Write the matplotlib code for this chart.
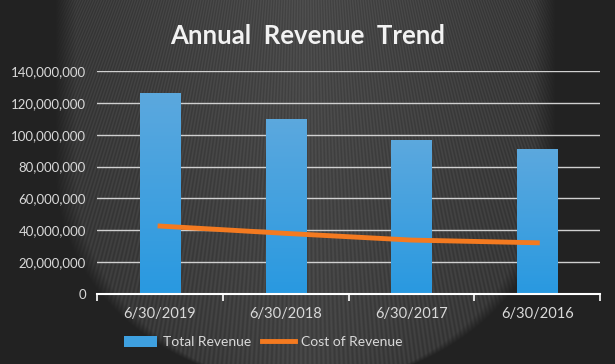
import numpy as np
import matplotlib.pyplot as plt
from matplotlib.lines import Line2D
from matplotlib.patches import Patch

# chart data
dates = ["6/30/2019", "6/30/2018", "6/30/2017", "6/30/2016"]
total_revenue = [126200000, 109900000, 96500000, 90800000]
cost_of_revenue = [42700000, 38100000, 33900000, 32200000]
y_ticks = [0, 20000000, 40000000, 60000000, 80000000, 100000000, 120000000, 140000000]

plt.rcParams['font.family'] = ['Lato', 'DejaVu Sans']
text_col = '#d9d9d9'

fig = plt.figure(figsize=(6.15, 3.64), dpi=100)
fig.patch.set_facecolor('#222222')

# dark background with a lighter, finely striped fan in the middle
bg = fig.add_axes([0, 0, 1, 1], zorder=-10)
px, py = np.meshgrid(np.arange(615), np.arange(364))
dx = (px - 305.0)
dy = np.clip((py - 170.0) / 215.0, 0, 0.999)
half_w = 250 * np.sqrt(1 - dy ** 2)
u = np.abs(dx) / half_w
inside = np.clip((1 - u) * 12, 0, 1)
stripes = 0.5 + 0.5 * np.cos(dx * 2.4 / (1 + 0.002 * py))
shade = 0.135 + inside * (0.06 + 0.07 * (1 - u) * (1 - 0.4 * py / 364) + 0.05 * stripes)
bg.imshow(np.dstack([shade] * 3), aspect='auto', extent=[0, 1, 0, 1], origin='upper')
bg.axis('off')

ax = fig.add_axes([0.158, 0.192, 0.818, 0.613])
ax.patch.set_alpha(0)
x = np.arange(len(dates))

bars = ax.bar(x, total_revenue, width=0.32, color='#3ea0e0', zorder=2)
# vertical gradient inside each bar
grad = np.linspace(0, 1, 100).reshape(-1, 1)
top_c = np.array([0.36, 0.66, 0.87])
bot_c = np.array([0.16, 0.60, 0.88])
img = top_c * (1 - grad[..., None]) + bot_c * grad[..., None]
for b in bars:
    im = ax.imshow(img, aspect='auto', zorder=2.1,
                   extent=[b.get_x(), b.get_x() + b.get_width(), 0, b.get_height()],
                   origin='upper')
    im.set_clip_path(b)

ax.plot(x, cost_of_revenue, color='#f47a20', linewidth=3.5, zorder=3)

ax.set_xlim(-0.5, len(dates) - 0.5)
ax.set_ylim(0, 140000000)
ax.set_yticks(y_ticks)
ax.set_yticklabels([f"{v:,}" for v in y_ticks])
ax.yaxis.grid(True, color='#d0d0d0', linewidth=1)
ax.set_axisbelow(True)
ax.tick_params(axis='y', length=0, colors=text_col, labelsize=9.5, pad=8)

ax.set_xticks(x)
ax.set_xticklabels(dates)
ax.set_xticks(np.arange(-0.5, len(dates)), minor=True)
ax.tick_params(axis='x', which='major', length=0, colors=text_col, labelsize=10.5, pad=9)
ax.tick_params(axis='x', which='minor', length=5, color='white', width=1.2)

for s in ['top', 'right', 'left']:
    ax.spines[s].set_visible(False)
ax.spines['bottom'].set_color('white')
ax.spines['bottom'].set_linewidth(1.5)

fig.text(0.5, 0.902, "Annual  Revenue  Trend", ha='center', va='center',
         color='#f2f2f2', fontsize=18.5, fontweight='bold')

handles = [Patch(facecolor='#3ea0e0'),
           Line2D([0], [0], color='#f47a20', linewidth=3.5)]
fig.legend(handles, ["Total Revenue", "Cost of Revenue"], loc='center',
           bbox_to_anchor=(0.428, 0.06), ncol=2, frameon=False,
           labelcolor=text_col, fontsize=10, handlelength=2.4,
           handleheight=0.8, columnspacing=0.8, handletextpad=0.4)

fig.savefig("out.png", dpi=100, facecolor=fig.get_facecolor())
